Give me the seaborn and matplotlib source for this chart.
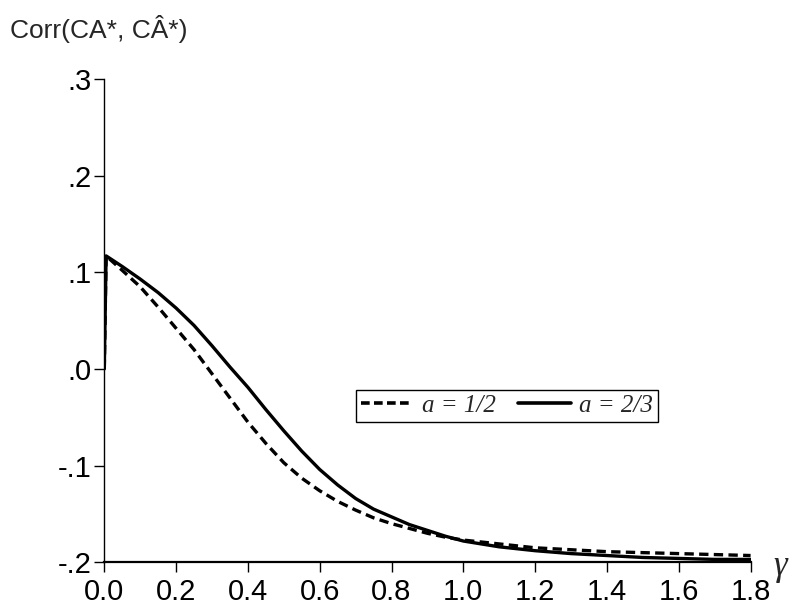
import numpy as np
import pandas as pd
import matplotlib
matplotlib.use("Agg")
import matplotlib.pyplot as plt
import seaborn as sns
from matplotlib.lines import Line2D

# valores
gamma = [0.0, 0.005, 0.05, 0.1, 0.15, 0.2, 0.25, 0.3, 0.35, 0.4, 0.45, 0.5,
         0.55, 0.6, 0.65, 0.7, 0.75, 0.8, 0.85, 0.9, 0.95, 1.0, 1.1, 1.2,
         1.3, 1.4, 1.5, 1.6, 1.7, 1.8]

corr_a12 = [0.0, 0.117, 0.102, 0.085, 0.064, 0.042, 0.020, -0.005, -0.030,
            -0.055, -0.077, -0.097, -0.113, -0.126, -0.137, -0.146, -0.154,
            -0.160, -0.165, -0.170, -0.174, -0.177, -0.181, -0.185, -0.187,
            -0.189, -0.190, -0.191, -0.192, -0.193]

corr_a23 = [0.0, 0.117, 0.106, 0.093, 0.079, 0.063, 0.045, 0.024, 0.002,
            -0.019, -0.042, -0.064, -0.085, -0.104, -0.120, -0.134, -0.145,
            -0.153, -0.161, -0.167, -0.173, -0.178, -0.184, -0.188, -0.191,
            -0.193, -0.195, -0.196, -0.197, -0.197]

x_ticks = [0.0, 0.2, 0.4, 0.6, 0.8, 1.0, 1.2, 1.4, 1.6, 1.8]
x_labels = ["0.0", "0.2", "0.4", "0.6", "0.8", "1.0", "1.2", "1.4", "1.6", "1.8"]
y_ticks = [-0.2, -0.1, 0.0, 0.1, 0.2, 0.3]
y_labels = ["-.2", "-.1", ".0", ".1", ".2", ".3"]

sns.set_style("ticks")
plt.rcParams['font.family'] = ['Liberation Sans', 'DejaVu Sans']

df12 = pd.DataFrame({'gamma': gamma, 'corr': corr_a12})
df23 = pd.DataFrame({'gamma': gamma, 'corr': corr_a23})

fig = plt.figure(figsize=(7.92, 6.10), dpi=100)
ax = fig.add_axes([0.1317, 0.0782, 0.816, 0.7923])

sns.lineplot(data=df12, x='gamma', y='corr', ax=ax, color='black',
             linewidth=2.4, estimator=None, sort=False)
sns.lineplot(data=df23, x='gamma', y='corr', ax=ax, color='black',
             linewidth=2.4, estimator=None, sort=False)
ax.lines[0].set_dashes((2.8, 1.6))

ax.set_xlim(0, 1.8)
ax.set_ylim(-0.2, 0.3)
ax.set_xticks(x_ticks)
ax.set_xticklabels(x_labels)
ax.set_yticks(y_ticks)
ax.set_yticklabels(y_labels)
ax.set_xlabel('')
ax.set_ylabel('')
ax.tick_params(axis='both', direction='out', length=7, width=1, colors='black',
               labelsize=21)
ax.tick_params(axis='x', pad=4)
ax.tick_params(axis='y', pad=2)

sns.despine(ax=ax)
ax.spines['left'].set_linewidth(1.0)
ax.spines['bottom'].set_linewidth(1.6)
ax.spines['left'].set_color('black')
ax.spines['bottom'].set_color('black')

# legenda
h1 = Line2D([], [], color='black', linewidth=2.6, dashes=(2.4, 1.2))
h2 = Line2D([], [], color='black', linewidth=2.6)
leg = ax.legend([h1, h2], ['a = 1/2', 'a = 2/3'], loc='center',
                bbox_to_anchor=(0.623, 0.3234), ncol=2, frameon=True,
                fancybox=False, edgecolor='black', framealpha=1,
                handlelength=2.1, handletextpad=0.35, columnspacing=0.9,
                borderpad=0.2, borderaxespad=0,
                prop={'family': 'Liberation Serif', 'style': 'italic', 'size': 18})
leg.get_frame().set_linewidth(1.0)

fig.text(0.013, 0.975, 'Corr(CA*, CÂ*)', fontsize=19, ha='left', va='top')
fig.text(0.977, 0.072, 'γ', fontsize=25, ha='left', va='center',
         family='Liberation Serif', style='italic')

fig.savefig('out.png', dpi=100)
